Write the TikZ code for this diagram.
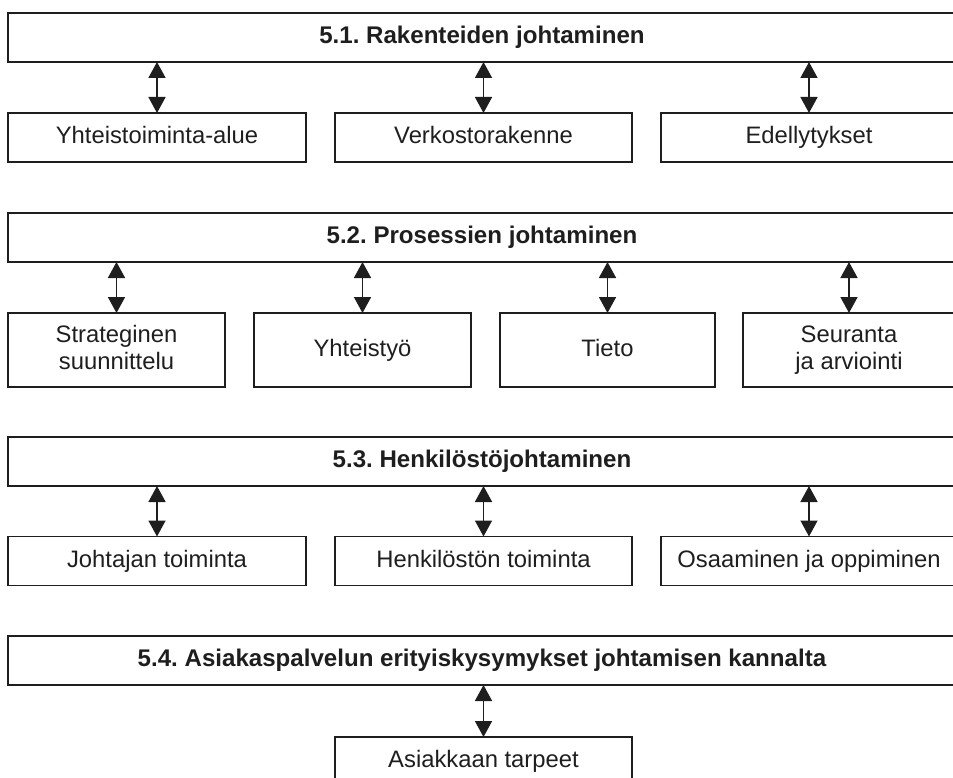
\documentclass[tikz,border=0pt]{standalone}
\usepackage{fontspec}
\setmainfont{Liberation Sans}
\usetikzlibrary{arrows.meta}
\definecolor{ink}{HTML}{1E1E1E}
\frenchspacing
\begin{document}
\begin{tikzpicture}[x=1pt,y=-1pt,
  every node/.style={inner sep=0pt,outer sep=0pt,text=ink,align=center},
  headbox/.style={draw=ink,line width=1.4pt,minimum width=948pt,minimum height=49pt,
    text height=17pt,text depth=5pt,
    font=\fontsize{24.1}{26}\selectfont\bfseries},
  itembox/.style={draw=ink,line width=1.4pt,minimum height=49pt,
    text height=17pt,text depth=5pt,
    font=\fontsize{23.8}{26.5}\selectfont},
  tallbox/.style={itembox,minimum height=74pt},
  twolines/.style={text height=43.5pt},
  link/.style={draw=ink,line width=1.6pt,
    {Triangle[width=17pt,length=16pt]}-{Triangle[width=17pt,length=16pt]}}]
\useasboundingbox (0,0) rectangle (953,778);
\clip (0,0) rectangle (953,778);

% 5.1
\node[headbox] (h1) at (482,37.5) {5.1. Rakenteiden johtaminen};
\node[itembox,minimum width=298pt] (a1) at (157,137.5) {Yhteistoiminta-alue};
\node[itembox,minimum width=297pt] (a2) at (483.5,137.5) {Verkostorakenne};
\node[itembox,minimum width=296pt] (a3) at (809,137.5) {Edellytykset};

% 5.2
\node[headbox] (h2) at (482,237.5) {5.2. Prosessien johtaminen};
\node[tallbox,twolines,minimum width=217pt] (b1) at (116.5,350) {Strateginen\\suunnittelu};
\node[tallbox,minimum width=217pt] (b2) at (362.5,350) {Yhteistyö};
\node[tallbox,minimum width=215pt] (b3) at (607.5,350) {Tieto};
\node[tallbox,twolines,minimum width=212pt] (b4) at (849,350) {Seuranta\\ja arviointi};

% 5.3
\node[headbox] (h3) at (482,461.5) {5.3. Henkilöstöjohtaminen};
\node[itembox,minimum width=298pt] (c1) at (157,561) {Johtajan toiminta};
\node[itembox,minimum width=297pt] (c2) at (483.5,561) {Henkilöstön toiminta};
\node[itembox,minimum width=296pt] (c3) at (809,561) {Osaaminen ja oppiminen};

% 5.4
\node[headbox] (h4) at (482,660.5) {5.4. Asiakaspalvelun erityiskysymykset johtamisen kannalta};
\node[itembox,minimum width=297pt] (d1) at (483.5,761.5) {Asiakkaan tarpeet};

% two-way links from each item up to its heading
\foreach \child/\head in {a1/h1,a2/h1,a3/h1,b1/h2,b2/h2,b3/h2,b4/h2,c1/h3,c2/h3,c3/h3,d1/h4}
  \draw[link] (\child.north) -- (\child.north |- \head.south);
\end{tikzpicture}
\end{document}
